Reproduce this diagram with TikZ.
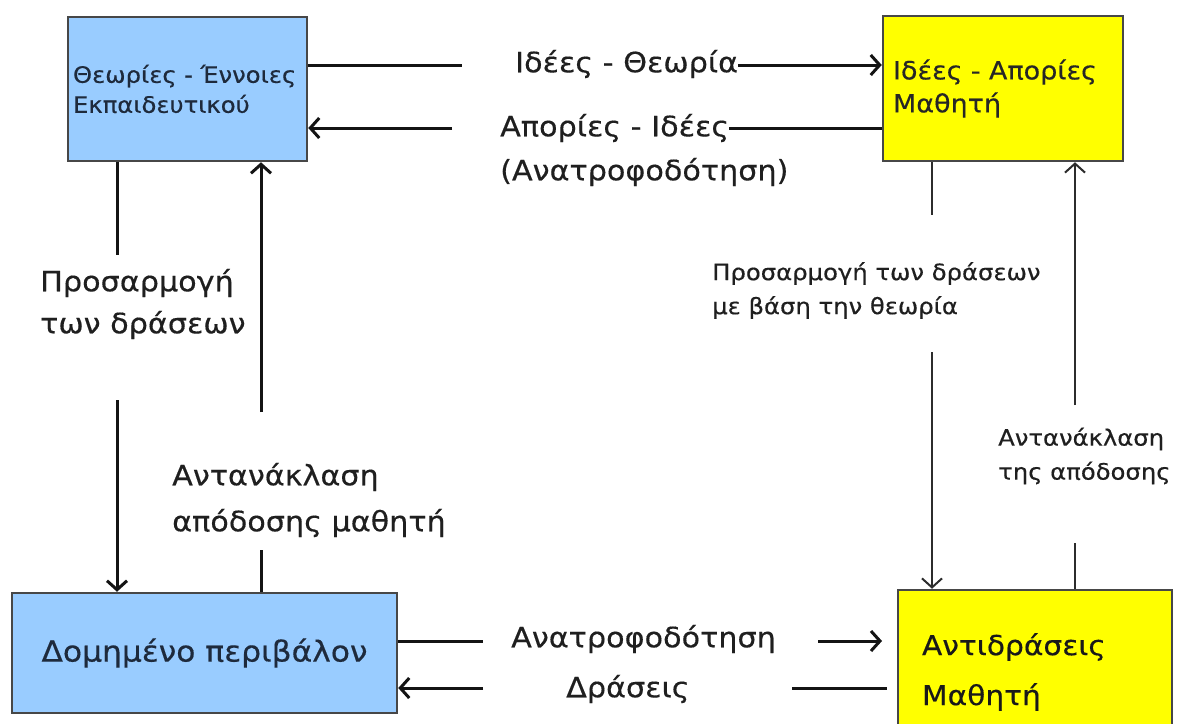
\documentclass[tikz,border=0pt]{standalone}
\usepackage{fontspec}
\setmainfont[FakeStretch=1.08,FakeBold=0.4]{DejaVu Sans}
\usetikzlibrary{arrows.meta}
\definecolor{blueF}{RGB}{153,204,255}
\definecolor{yellowF}{RGB}{255,255,0}
\definecolor{navyT}{RGB}{30,42,60}
\definecolor{lineC}{RGB}{20,20,20}
\begin{document}
\begin{tikzpicture}[x=1pt,y=-1pt,
  font=\fontsize{28}{42}\selectfont,
  ln/.style={draw=lineC, line width=3pt},
  thinln/.style={draw=lineC!90, line width=2pt},
  tip/.style={-{Straight Barb[length=9pt,width=20pt]}},
  box/.style={draw=black!72, line width=2.5pt, inner ysep=0pt},
  lbl/.style={inner sep=0pt, align=left, text=black!88, anchor=west},
  sml/.style={lbl, font=\fontsize{22.5}{34}\selectfont},
]
\useasboundingbox[fill=white] (0,0) rectangle (1178,723);

% boxes
\node[box, fill=blueF, minimum width=239pt, minimum height=144pt, text width=229pt,
      inner xsep=5pt, align=left, text=navyT, font=\fontsize{22.5}{30}\selectfont]
      (A) at (187.5,89) {Θεωρίες - Έννοιες\\Εκπαιδευτικού};
\node[box, fill=yellowF, minimum width=240pt, minimum height=145pt, text width=220pt,
      inner xsep=10pt, align=left, text=black!85, font=\fontsize{25}{33}\selectfont]
      (B) at (1003,88.5) {Ιδέες - Απορίες\\Μαθητή};
\node[box, fill=blueF, minimum width=385pt, minimum height=120pt, text=navyT,
      font=\fontsize{29}{40}\selectfont]
      (C) at (204.5,653) {Δομημένο περιβάλον};
\node[box, fill=yellowF, minimum width=274pt, minimum height=164pt, text width=226pt,
      inner xsep=24pt, align=left, text=black!90, font=\fontsize{27.5}{50}\selectfont]
      (D) at (1035,672) {Αντιδράσεις\\Μαθητή};

% labels
\node[lbl] (T1) at (515,64) {Ιδέες - Θεωρία};
\node[lbl] (T2) at (500,128) {Απορίες - Ιδέες};
\node[lbl] (T3) at (500,172) {(Ανατροφοδότηση)};
\node[lbl] (T4) at (40,304) {Προσαρμογή\\των δράσεων};
\node[lbl, font=\fontsize{28}{46}\selectfont] (T5) at (172,500) {Αντανάκλαση\\απόδοσης μαθητή};
\node[sml] (T6) at (712,290.5) {Προσαρμογή των δράσεων\\με βάση την θεωρία};
\node[sml] (T7) at (998,456) {Αντανάκλαση\\της απόδοσης};
\node[lbl] (T8) at (511,639) {Ανατροφοδότηση};
\node[lbl] (T9) at (566,689) {Δράσεις};

% top connectors
\coordinate (c1) at (462,65);
\draw[ln] (A.east |- c1) -- (c1);
\draw[ln,tip] (T1.east |- c1) -- (B.west |- c1);
\coordinate (c2) at (452,128);
\draw[ln,tip] (c2) -- (A.east |- c2);
\draw[ln] (B.west |- c2) -- (T2.east |- c2);

% left verticals
\coordinate (c3) at (117,255);
\coordinate (c4) at (117,400);
\draw[ln] (A.south -| c3) -- (c3);
\draw[ln,tip] (c4) -- (C.north -| c4);
\coordinate (c5) at (261,412);
\coordinate (c6) at (261,550);
\draw[ln,tip] (c5) -- (A.south -| c5);
\draw[ln] (C.north -| c6) -- (c6);

% right verticals
\coordinate (c7) at (932,215);
\coordinate (c8) at (932,352);
\draw[thinln] (B.south -| c7) -- (c7);
\draw[thinln,tip] (c8) -- (D.north -| c8);
\coordinate (c9) at (1075,405);
\coordinate (c10) at (1075,543);
\draw[thinln,tip] (c9) -- (B.south -| c9);
\draw[thinln] (D.north -| c10) -- (c10);

% bottom connectors
\coordinate (c11) at (483,641);
\draw[ln] (C.east |- c11) -- (c11);
\coordinate (c12) at (818,641);
\coordinate (c13) at (882,641);
\draw[ln,tip] (c12) -- (c13);
\coordinate (c14) at (483,688);
\draw[ln,tip] (c14) -- (C.east |- c14);
\coordinate (c15) at (792,688);
\coordinate (c16) at (887,688);
\draw[ln] (c15) -- (c16);
\end{tikzpicture}
\end{document}
